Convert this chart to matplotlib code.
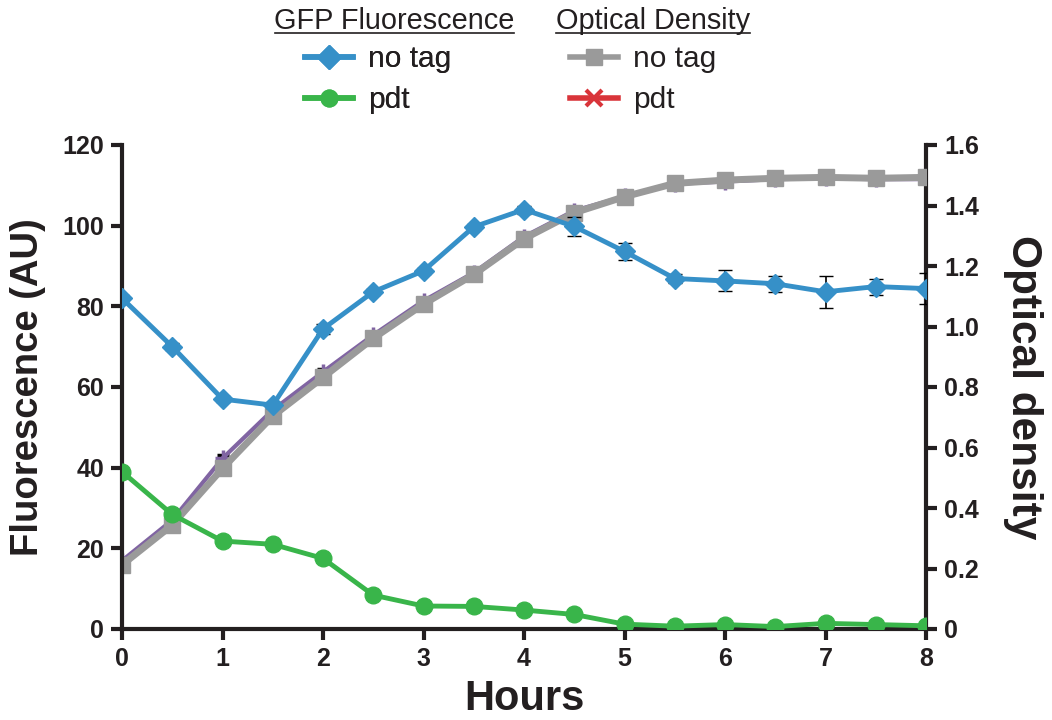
import matplotlib
matplotlib.use("Agg")
import matplotlib.pyplot as plt
from matplotlib.lines import Line2D

plt.rcParams['font.family'] = ['Liberation Sans', 'DejaVu Sans']

hours = [0, 0.5, 1, 1.5, 2, 2.5, 3, 3.5, 4, 4.5, 5, 5.5, 6, 6.5, 7, 7.5, 8]
fluor_notag = [82, 70, 57, 55.5, 74.4, 83.6, 88.8, 99.7, 104, 99.8, 93.6, 86.9, 86.3, 85.6, 83.6, 84.9, 84.4]
fluor_notag_err = [0.8, 0.8, 0.8, 0.8, 1.2, 0.8, 0.8, 0.8, 1.0, 2.3, 2.0, 1.0, 2.6, 2.0, 3.9, 2.0, 3.9]
fluor_pdt = [39.0, 28.4, 21.8, 21.0, 17.5, 8.4, 5.7, 5.6, 4.7, 3.6, 1.2, 0.7, 1.1, 0.6, 1.4, 1.1, 0.8]
od_notag = [0.212, 0.344, 0.531, 0.704, 0.832, 0.961, 1.074, 1.172, 1.290, 1.376, 1.429, 1.473, 1.484, 1.490, 1.493, 1.490, 1.493]
od_pdt = [0.226, 0.360, 0.564, 0.724, 0.850, 0.972, 1.085, 1.178, 1.297, 1.383, 1.430, 1.472, 1.479, 1.487, 1.490, 1.487, 1.487]
od_err = [0.01] * 17

left_ticks = [0, 20, 40, 60, 80, 100, 120]
right_ticks = [0, 0.2, 0.4, 0.6, 0.8, 1.0, 1.2, 1.4, 1.6]
right_labels = ["0", "0.2", "0.4", "0.6", "0.8", "1.0", "1.2", "1.4", "1.6"]
x_ticks = [0, 1, 2, 3, 4, 5, 6, 7, 8]

BLUE = '#3690c8'
GREEN = '#39b54a'
GRAY = '#9a9a9a'
RED = '#d9343a'
PURPLE = '#8064a2'
INK = '#231f20'

fig = plt.figure(figsize=(10.52, 7.2), dpi=100)
ax = fig.add_axes([122/1052, 91/720, 804/1052, 484/720])
ax2 = ax.twinx()
ax.set_zorder(ax2.get_zorder() + 1)
ax.patch.set_visible(False)

# OD (right axis)
ax2.errorbar(hours, od_pdt, yerr=od_err, color=PURPLE, lw=3, marker='+', ms=12, mew=2.5,
             ecolor='black', elinewidth=1, capsize=4, zorder=2)
ax2.errorbar(hours, od_notag, yerr=od_err, color=GRAY, lw=5, marker='s', ms=11,
             ecolor='black', elinewidth=1, capsize=4, zorder=3)

# Fluorescence (left axis)
ax.errorbar(hours, fluor_notag, yerr=fluor_notag_err, color=BLUE, lw=3.5, marker='D', ms=10,
            ecolor='black', elinewidth=1.2, capsize=5, zorder=4)
ax.errorbar(hours, fluor_pdt, yerr=[0.3]*17, color=GREEN, lw=3.5, marker='o', ms=12,
            ecolor='black', elinewidth=1, capsize=4, zorder=4)

ax.set_xlim(0, 8)
ax.set_ylim(0, 120)
ax2.set_ylim(0, 1.6)
ax.set_xticks(x_ticks)
ax.set_xticklabels([str(t) for t in x_ticks])
ax.set_yticks(left_ticks)
ax2.set_yticks(right_ticks)
ax2.set_yticklabels(right_labels)

for a in (ax, ax2):
    a.spines['top'].set_visible(False)
    for s in ('left', 'right', 'bottom'):
        a.spines[s].set_linewidth(3)
        a.spines[s].set_color(INK)
    a.tick_params(width=3, length=8, labelsize=18, color=INK, labelcolor=INK, pad=5)
ax.spines['right'].set_visible(False)
ax2.spines['left'].set_visible(False)
ax2.spines['bottom'].set_visible(False)
for a in (ax, ax2):
    for lab in a.get_xticklabels() + a.get_yticklabels():
        lab.set_fontweight('bold')

ax.set_xlabel('Hours', fontsize=30, fontweight='bold', labelpad=6, color=INK)
ax.set_ylabel('Fluorescence (AU)', fontsize=27.5, fontweight='bold', labelpad=12, color=INK)
ax2.set_ylabel('Optical density', fontsize=30.5, fontweight='bold', rotation=270, labelpad=46, color=INK)

# Legend headers
fig.text(394/1052, 1 - 21/720, 'GFP Fluorescence', ha='center', va='center', fontsize=20.8, color=INK)
fig.text(653/1052, 1 - 21/720, 'Optical Density', ha='center', va='center', fontsize=20.8, color=INK)
fig.add_artist(Line2D([275/1052, 514/1052], [1 - 33/720, 1 - 33/720], color=INK, lw=1.2))
fig.add_artist(Line2D([556/1052, 750/1052], [1 - 33/720, 1 - 33/720], color=INK, lw=1.2))

h1 = [Line2D([], [], color=BLUE, lw=4, marker='D', ms=12),
      Line2D([], [], color=GREEN, lw=4, marker='o', ms=12)]
h2 = [Line2D([], [], color=GRAY, lw=4, marker='s', ms=11),
      Line2D([], [], color=RED, lw=4, marker='x', ms=11, mew=3)]
kw = dict(loc='upper left', frameon=False, fontsize=21.5, handlelength=1.6, handletextpad=0.5,
          labelspacing=0.45, borderpad=0, borderaxespad=0)
leg1 = fig.legend(h1, ['no tag', 'pdt'], bbox_to_anchor=(305/1052, 1 - 45/720), **kw)
leg2 = fig.legend(h2, ['no tag', 'pdt'], bbox_to_anchor=(570/1052, 1 - 45/720), **kw)
for lg in (leg1, leg2):
    for t in lg.get_texts():
        t.set_color(INK)
fig.add_artist(leg1)

fig.savefig('out.png', dpi=100)
